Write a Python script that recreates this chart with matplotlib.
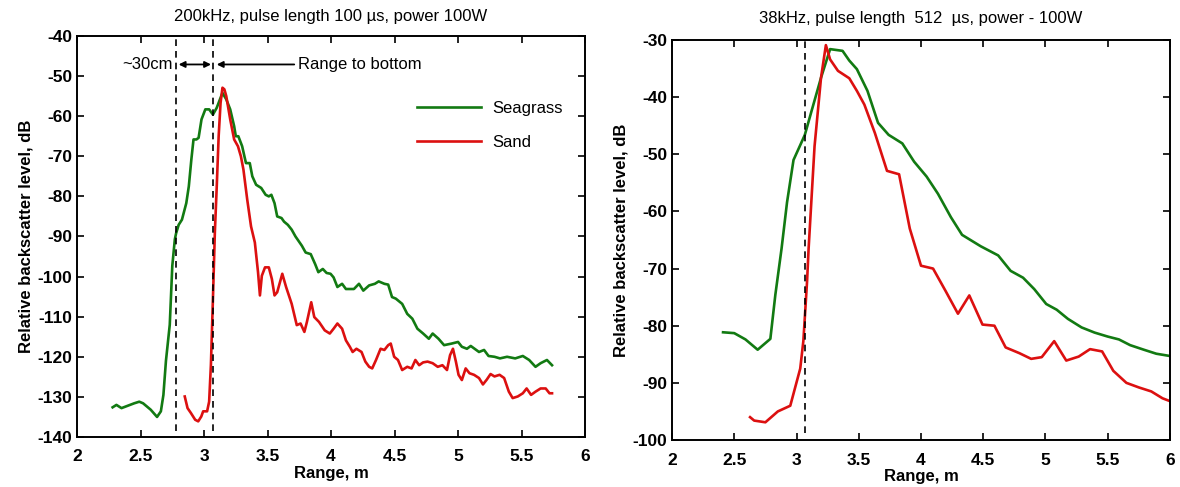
import matplotlib
matplotlib.use("Agg")
from matplotlib import pyplot as plt

plt.rcParams['font.family'] = ['Liberation Sans', 'DejaVu Sans']
plt.rcParams['font.size'] = 11
plt.rcParams['axes.unicode_minus'] = False

# ---- 200 kHz panel ----
seagrass_200_x = [2.28, 2.31, 2.35, 2.45, 2.49, 2.52, 2.58, 2.63, 2.66, 2.68, 2.70, 2.73, 2.75, 2.77,
                  2.78, 2.80, 2.826, 2.86, 2.88, 2.90, 2.917, 2.94, 2.957, 2.98, 3.01, 3.04, 3.07,
                  3.10, 3.13, 3.145, 3.175, 3.206, 3.237, 3.25, 3.27, 3.30, 3.33, 3.36, 3.38, 3.41,
                  3.45, 3.485, 3.51, 3.53, 3.555, 3.576, 3.61, 3.63, 3.66, 3.69, 3.72, 3.77, 3.80,
                  3.84, 3.875, 3.90, 3.935, 3.965, 3.996, 4.02, 4.05, 4.087, 4.117, 4.18, 4.22,
                  4.254, 4.30, 4.345, 4.375, 4.42, 4.45, 4.48, 4.51, 4.56, 4.60, 4.64, 4.68, 4.725,
                  4.77, 4.80, 4.846, 4.89, 4.95, 5.0, 5.03, 5.07, 5.10, 5.165, 5.205, 5.24, 5.287,
                  5.33, 5.386, 5.45, 5.51, 5.56, 5.61, 5.65, 5.70, 5.74]
seagrass_200_y = [-132.6, -132.0, -132.8, -131.6, -131.2, -131.6, -133.2, -135.0, -133.6, -129.5,
                  -121.0, -112.0, -97.3, -90.7, -89.2, -87.1, -85.8, -81.7, -77.5, -70.8, -65.8,
                  -65.8, -65.4, -60.8, -58.3, -58.3, -59.6, -57.9, -55.4, -54.2, -55.8, -58.3,
                  -62.5, -65.0, -65.0, -67.5, -71.7, -71.7, -75.0, -77.1, -77.9, -79.6, -80.0,
                  -79.6, -81.7, -85.0, -85.4, -86.3, -87.1, -88.3, -90.0, -92.3, -94.0, -94.4,
                  -96.9, -98.9, -98.1, -99.1, -99.3, -100.2, -102.6, -101.8, -103.1, -103.1,
                  -101.8, -103.5, -102.2, -101.8, -101.2, -101.8, -102.0, -105.1, -105.5, -106.8,
                  -109.3, -110.5, -113.0, -114.2, -115.5, -114.2, -115.5, -117.1, -116.7, -116.3,
                  -117.5, -118.0, -117.3, -118.8, -118.3, -119.8, -120.0, -120.4, -120.0, -120.4,
                  -119.8, -120.8, -122.5, -121.6, -120.8, -122.1]

sand_200_x = [2.848, 2.87, 2.896, 2.93, 2.954, 2.978, 2.993, 3.024, 3.04, 3.054, 3.07, 3.085, 3.10,
              3.115, 3.13, 3.145, 3.16, 3.175, 3.206, 3.237, 3.267, 3.29, 3.31, 3.34, 3.37, 3.40,
              3.425, 3.44, 3.455, 3.48, 3.51, 3.534, 3.555, 3.576, 3.616, 3.646, 3.69, 3.73, 3.76,
              3.79, 3.81, 3.844, 3.868, 3.905, 3.95, 3.99, 4.02, 4.05, 4.087, 4.117, 4.148, 4.17,
              4.20, 4.24, 4.27, 4.30, 4.324, 4.354, 4.39, 4.42, 4.45, 4.47, 4.497, 4.527, 4.56,
              4.60, 4.634, 4.664, 4.694, 4.725, 4.76, 4.80, 4.84, 4.877, 4.913, 4.937, 4.96,
              4.983, 5.004, 5.03, 5.06, 5.09, 5.126, 5.165, 5.196, 5.226, 5.256, 5.287, 5.327,
              5.363, 5.40, 5.43, 5.47, 5.51, 5.54, 5.575, 5.61, 5.65, 5.69, 5.72, 5.74]
sand_200_y = [-129.9, -132.8, -134.0, -135.7, -136.1, -134.9, -133.6, -133.6, -131.2, -122.0,
              -105.5, -89.0, -77.5, -65.0, -56.7, -52.9, -53.3, -55.0, -60.8, -65.8, -67.5,
              -70.0, -73.3, -80.8, -87.5, -91.5, -98.9, -104.7, -99.8, -97.7, -97.7, -100.6,
              -104.7, -103.9, -99.3, -102.6, -106.8, -112.1, -111.7, -113.8, -111.3, -106.4,
              -110.1, -111.3, -113.4, -114.2, -113.0, -111.7, -113.0, -115.9, -117.5, -118.8,
              -118.0, -118.8, -121.2, -122.5, -122.9, -120.8, -118.0, -118.3, -117.1, -116.7,
              -120.0, -120.8, -123.3, -122.5, -122.9, -120.8, -122.1, -121.4, -121.2, -121.6,
              -122.5, -122.1, -123.3, -119.6, -118.0, -121.2, -124.5, -125.8, -122.9, -124.1,
              -124.5, -125.3, -126.9, -125.7, -124.3, -124.9, -124.5, -125.3, -128.7, -130.3,
              -129.9, -129.1, -127.9, -129.5, -128.7, -127.9, -127.9, -129.1, -129.1]

marks_200 = [2.78, 3.07]

# ---- 38 kHz panel ----
seagrass_38_x = [2.41, 2.5, 2.59, 2.688, 2.79, 2.83, 2.88, 2.924, 2.976, 3.03, 3.067, 3.12, 3.197,
                 3.27, 3.37, 3.424, 3.485, 3.57, 3.655, 3.74, 3.85, 3.945, 4.045, 4.136, 4.24,
                 4.33, 4.48, 4.62, 4.72, 4.82, 4.91, 5.006, 5.09, 5.18, 5.29, 5.394, 5.5, 5.59,
                 5.68, 5.79, 5.89, 6.0]
seagrass_38_y = [-81.15, -81.3, -82.4, -84.2, -82.3, -74.6, -66.5, -58.4, -51.0, -48.4, -46.6,
                 -42.5, -36.6, -31.6, -31.9, -33.6, -35.1, -38.9, -44.5, -46.6, -48.1, -51.3,
                 -53.9, -56.9, -61.0, -64.1, -66.1, -67.7, -70.4, -71.6, -73.6, -76.2, -77.2,
                 -78.8, -80.3, -81.2, -81.9, -82.4, -83.4, -84.2, -84.9, -85.3]

sand_38_x = [2.627, 2.66, 2.75, 2.85, 2.95, 3.03, 3.055, 3.085, 3.097, 3.145, 3.197, 3.236, 3.27,
             3.333, 3.424, 3.485, 3.545, 3.63, 3.727, 3.824, 3.91, 4.0, 4.097, 4.197, 4.297,
             4.388, 4.494, 4.59, 4.68, 4.79, 4.885, 4.97, 5.07, 5.167, 5.267, 5.358, 5.455,
             5.545, 5.65, 5.75, 5.85, 5.94, 6.0]
sand_38_y = [-96.0, -96.6, -96.9, -95.0, -94.0, -87.5, -82.7, -72.2, -66.6, -48.6, -36.6, -30.9,
             -33.4, -35.4, -36.7, -38.9, -41.3, -46.3, -52.9, -53.5, -63.0, -69.5, -70.0,
             -73.9, -77.9, -74.7, -79.8, -80.0, -83.8, -84.8, -85.8, -85.5, -82.7, -86.1,
             -85.4, -84.1, -84.5, -87.9, -90.0, -90.8, -91.5, -92.7, -93.2]

marks_38 = [3.067]

GREEN = '#127a12'
RED = '#dc1010'

fig = plt.figure(figsize=(11.8, 4.87), dpi=100)
ax1 = fig.add_axes([0.0653, 0.1027, 0.4305, 0.8234])
ax2 = fig.add_axes([0.5695, 0.0965, 0.422, 0.8214])

for ax in (ax1, ax2):
    ax.tick_params(direction='in', top=True, right=True, length=5, width=1.2, labelsize=12.5)
    ax.tick_params(axis='x', pad=9)
    for s in ax.spines.values():
        s.set_linewidth(1.4)
    ax.set_xlim(2, 6)
    ax.set_xticks([2, 2.5, 3, 3.5, 4, 4.5, 5, 5.5, 6])
    ax.set_xticklabels(['2', '2.5', '3', '3.5', '4', '4.5', '5', '5.5', '6'])
    ax.set_xlabel('Range, m', fontsize=12, fontweight='bold', labelpad=1)
    ax.set_ylabel('Relative backscatter level, dB', fontsize=12, fontweight='bold', labelpad=3)

# left panel
ax1.plot(seagrass_200_x, seagrass_200_y, color=GREEN, lw=1.9, label='Seagrass')
ax1.plot(sand_200_x, sand_200_y, color=RED, lw=1.9, label='Sand')
ax1.vlines(marks_200, -138.5, -40, colors='black', linestyles=(0, (4, 3)), lw=1.2)
ax1.set_ylim(-140, -40)
ax1.set_yticks(range(-140, -39, 10))
ax1.set_title('200kHz, pulse length 100 \u00b5s, power 100W', fontsize=12, pad=11)
ax1.text(2.75, -47.1, '~30cm', ha='right', va='center', fontsize=12)
ax1.annotate('', xy=(2.80, -47.1), xytext=(3.055, -47.1),
             arrowprops=dict(arrowstyle='<|-|>', color='black', lw=1.3, mutation_scale=9,
                             shrinkA=0, shrinkB=0))
ax1.annotate('', xy=(3.1, -47.1), xytext=(3.71, -47.1),
             arrowprops=dict(arrowstyle='-|>', color='black', lw=1.3, mutation_scale=9,
                             shrinkA=0, shrinkB=0))
ax1.text(3.74, -47.1, 'Range to bottom', ha='left', va='center', fontsize=12)
ax1.legend(frameon=False, loc='upper left', bbox_to_anchor=(0.64, 0.875), fontsize=12,
           handlelength=3.8, labelspacing=1.15, handletextpad=0.7)

# right panel
ax2.plot(seagrass_38_x, seagrass_38_y, color=GREEN, lw=1.9)
ax2.plot(sand_38_x, sand_38_y, color=RED, lw=1.9)
ax2.vlines(marks_38, -98.8, -30, colors='black', linestyles=(0, (4, 3)), lw=1.2)
ax2.set_ylim(-100, -30)
ax2.set_yticks(range(-100, -29, 10))
ax2.set_title('38kHz, pulse length  512  \u00b5s, power - 100W', fontsize=12, pad=12)

for ax in (ax1, ax2):
    for lab in ax.get_xticklabels() + ax.get_yticklabels():
        lab.set_fontweight('bold')

fig.savefig('out.png', dpi=100)
